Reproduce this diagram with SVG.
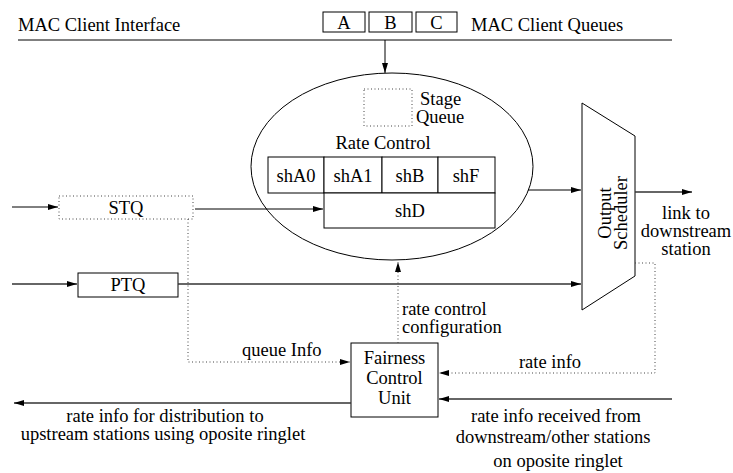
<svg xmlns="http://www.w3.org/2000/svg" width="733" height="473" viewBox="0 0 733 473">
<defs>
<style>
text{font-family:"Liberation Serif","Times New Roman",serif;font-size:18.5px;fill:#000}
.m{text-anchor:middle}
.s{fill:none;stroke:#000;stroke-width:1}
.g{fill:none;stroke:#333;stroke-width:1.3}
.d{fill:none;stroke:#444;stroke-width:1;stroke-dasharray:1 2.5}
.box{fill:#fff;stroke:#000;stroke-width:1}
</style>
<marker id="ah" viewBox="0 0 10 6" refX="10" refY="3" markerWidth="10" markerHeight="6" markerUnits="userSpaceOnUse" orient="auto">
<path d="M0,0 L10,3 L0,6 z" fill="#000"/>
</marker>
</defs>
<rect width="733" height="473" fill="#fff"/>

<g id="mac-interface">
<line class="s" x1="18" y1="40" x2="672" y2="40"/>
<text x="18" y="31">MAC Client Interface</text>
</g>
<g id="mac-queues">
<rect class="box" x="323" y="12" width="42" height="20"/>
<rect class="box" x="369" y="12" width="43" height="20"/>
<rect class="box" x="416" y="12" width="41" height="20"/>
<text class="m" x="344" y="29">A</text>
<text class="m" x="390.5" y="29">B</text>
<text class="m" x="436.5" y="29">C</text>
<text x="471" y="31">MAC Client Queues</text>
</g>

<g id="rate-control">
<ellipse class="s" cx="392" cy="166.5" rx="141" ry="93.5"/>
<rect class="d" x="364" y="89" width="48" height="37"/>
<text x="420" y="105">Stage</text>
<text x="416" y="123">Queue</text>
<text class="m" x="383" y="149">Rate Control</text>
<rect class="box" x="268" y="157" width="56" height="36" stroke="#555"/>
<rect class="box" x="324" y="157" width="58" height="36"/>
<rect class="box" x="382" y="157" width="56" height="36"/>
<rect class="box" x="438" y="157" width="57" height="36"/>
<rect class="box" x="324" y="193" width="171" height="35"/>
<text class="m" x="296" y="182">shA0</text>
<text class="m" x="353" y="182">shA1</text>
<text class="m" x="410" y="182">shB</text>
<text class="m" x="466" y="182">shF</text>
<text class="m" x="410" y="217">shD</text>
</g>

<g id="stq">
<rect class="d" x="59" y="196" width="134" height="23"/>
<text class="m" x="126" y="214">STQ</text>
</g>
<g id="ptq">
<rect class="box" x="78" y="273" width="100" height="24"/>
<text class="m" x="128" y="291">PTQ</text>
</g>

<g id="output-scheduler">
<polygon class="box" points="582,103 635,136 635,276 582,310"/>
<text class="m" transform="translate(611 213) rotate(-90)">Output</text>
<text class="m" transform="translate(627 213) rotate(-90)">Scheduler</text>
</g>

<g id="fairness-control-unit">
<rect class="box" x="351" y="343" width="87" height="74"/>
<text class="m" x="394.5" y="364">Fairness</text>
<text class="m" x="394.5" y="384">Control</text>
<text class="m" x="394.5" y="404">Unit</text>
</g>

<g id="connectors">
<line class="s" x1="385" y1="40" x2="385" y2="73" marker-end="url(#ah)"/>
<line class="s" x1="528" y1="190" x2="581" y2="190" marker-end="url(#ah)"/>
<line class="g" x1="635" y1="192" x2="692" y2="192" marker-end="url(#ah)"/>
<line class="s" x1="12" y1="207" x2="58" y2="207" marker-end="url(#ah)"/>
<line class="s" x1="195" y1="209" x2="323" y2="209" marker-end="url(#ah)"/>
<line class="g" x1="12" y1="284" x2="77" y2="284" marker-end="url(#ah)"/>
<line class="g" x1="178" y1="284" x2="581" y2="284" marker-end="url(#ah)"/>
<polyline class="d" points="188,219 188,362 350,362" marker-end="url(#ah)"/>
<line class="d" x1="398" y1="343" x2="398" y2="262" marker-end="url(#ah)"/>
<polyline class="d" points="635,263 655,263 655,373 439,373" marker-end="url(#ah)"/>
<line class="g" x1="672" y1="399" x2="439" y2="399" marker-end="url(#ah)"/>
<line class="g" x1="351" y1="403" x2="14" y2="403" marker-end="url(#ah)"/>
</g>

<g id="labels">
<text class="m" x="686" y="219">link to</text>
<text class="m" x="686" y="237">downstream</text>
<text class="m" x="686" y="255">station</text>
<text x="402" y="315">rate control</text>
<text x="402" y="333">configuration</text>
<text x="242" y="356">queue Info</text>
<text class="m" x="550" y="368">rate info</text>
<text class="m" x="165" y="422">rate info for distribution to</text>
<text class="m" x="163" y="440">upstream stations using oposite ringlet</text>
<text class="m" x="556" y="422">rate info received from</text>
<text class="m" x="553" y="443">downstream/other stations</text>
<text class="m" x="558" y="467">on oposite ringlet</text>
</g>
</svg>
